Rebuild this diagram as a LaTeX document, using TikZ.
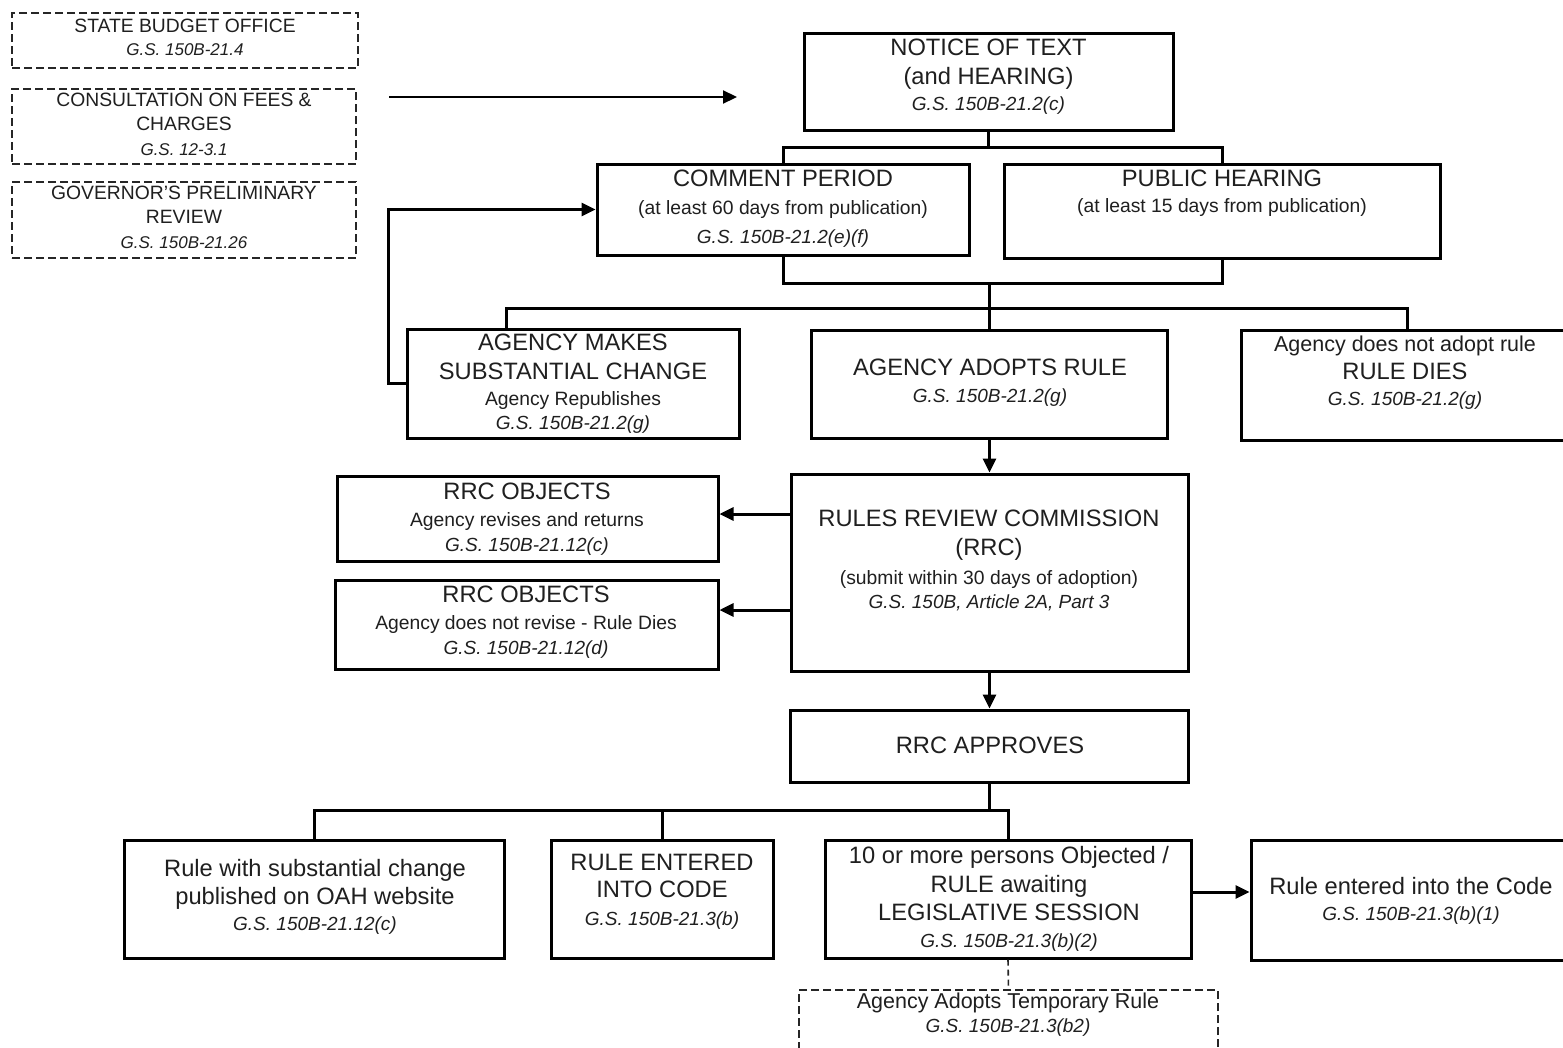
\documentclass[tikz,border=0pt]{standalone}
\usepackage{fontspec}
\setmainfont{Liberation Sans}
\usetikzlibrary{arrows.meta}
\newcommand\fLg{\fontsize{23.7}{28}\selectfont}
\newcommand\fMd{\fontsize{21.5}{26}\selectfont}
\newcommand\fSm{\fontsize{19.3}{25}\selectfont}
\newcommand\fGs{\fontsize{19}{25}\selectfont\itshape}
\newcommand\fGt{\fontsize{17}{23}\selectfont\itshape}
\tikzset{
  box/.style={draw, line width=3pt, inner sep=0pt},
  dbox/.style={draw, line width=1.6pt, dash pattern=on 8pt off 4pt, inner sep=0pt, draw=black!85},
  txt/.style={inner sep=0pt, align=center, text=black!88},
  conn/.style={line width=3pt},
  arr/.style={line width=3pt, -{Triangle[length=14pt,width=13pt]}},
  thinarr/.style={line width=2.2pt, -{Triangle[length=14pt,width=13pt]}},
  dconn/.style={line width=1.6pt, dash pattern=on 6pt off 4pt, draw=black!85},
}
\begin{document}
\begin{tikzpicture}[x=1pt,y=-1pt]
\clip (0,0) rectangle (1563,1047);
\fill[white] (0,0) rectangle (1563,1047);

% dashed boxes top left
\node[dbox, minimum width=346pt, minimum height=55pt] (sbo) at (185,40.5) {};
\node[txt, font={\fontsize{19.3}{23}\selectfont}] (tsbo) at (185,37) {STATE BUDGET OFFICE\\{\fGt G.S. 150B-21.4}};
\node[dbox, minimum width=344pt, minimum height=75pt] (cons) at (184,126.5) {};
\node[txt, font={\fontsize{19.3}{24.5}\selectfont}] (tcons) at (184,124) {CONSULTATION ON FEES \&\\CHARGES\\{\fGt G.S. 12-3.1}};
\node[dbox, minimum width=344pt, minimum height=76pt] (gov) at (184,220) {};
\node[txt, font={\fontsize{19.3}{24.5}\selectfont}] (tgov) at (184,217) {GOVERNOR'S PRELIMINARY\\REVIEW\\{\fGt G.S. 150B-21.26}};

\coordinate (a1) at (389,97);
\coordinate (a2) at (737,97);
\draw[thinarr] (a1) -- (a2);

% notice
\node[box, minimum width=369pt, minimum height=97pt] (notice) at (988.5,81.5) {};
\node[txt, font={\fontsize{23.7}{28.5}\selectfont}] (tnotice) at (988.5,77) {NOTICE OF TEXT\\(and HEARING)\\[-2pt]{\fGs G.S. 150B-21.2(c)}};

\node[box, minimum width=372pt, minimum height=91pt] (comment) at (783,209.5) {};
\node[txt, font={\fontsize{23.7}{28.5}\selectfont}] (tcomment) at (783,208.5) {COMMENT PERIOD\\{\fSm (at least 60 days from publication)}\\{\fGs G.S. 150B-21.2(e)(f)}};
\node[box, minimum width=436pt, minimum height=94pt] (public) at (1222,211) {};
\node[txt, font={\fontsize{23.7}{26}\selectfont}] (tpublic) at (1222,193) {PUBLIC HEARING\\{\fSm (at least 15 days from publication)}};

\node[box, minimum width=332pt, minimum height=109pt] (makes) at (573,383.5) {};
\node[txt, font={\fontsize{23.7}{26}\selectfont}] (tmakes) at (573,383.5) {AGENCY MAKES\\[3pt]SUBSTANTIAL CHANGE\\{\fSm Agency Republishes}\\[-2pt]{\fGs G.S. 150B-21.2(g)}};
\node[box, minimum width=356pt, minimum height=108pt] (adopt) at (989.5,384) {};
\node[txt, font={\fontsize{23.7}{27}\selectfont}] (tadopt) at (990,382.5) {AGENCY ADOPTS RULE\\{\fGs G.S. 150B-21.2(g)}};
\node[box, minimum width=332pt, minimum height=110pt] (dies) at (1407,385) {};
\node[txt, font={\fontsize{23.7}{28}\selectfont}] (tdies) at (1405,372.5) {{\fMd Agency does not adopt rule}\\RULE DIES\\[-2pt]{\fGs G.S. 150B-21.2(g)}};

\node[box, minimum width=397pt, minimum height=197pt] (rrc) at (989.5,572.5) {};
\node[txt, font={\fontsize{23.7}{29}\selectfont}] (trrc) at (989,560) {RULES REVIEW COMMISSION\\(RRC)\\{\fSm (submit within 30 days of adoption)}\\[-5pt]{\fGs G.S. 150B, Article 2A, Part 3}};
\node[box, minimum width=381pt, minimum height=85pt] (obj1) at (527.5,518.5) {};
\node[txt, font={\fontsize{23.7}{27}\selectfont}] (tobj1) at (527,519) {RRC OBJECTS\\{\fSm Agency revises and returns}\\[-2pt]{\fGs G.S. 150B-21.12(c)}};
\node[box, minimum width=383pt, minimum height=89pt] (obj2) at (526.5,624.5) {};
\node[txt, font={\fontsize{23.7}{27}\selectfont}] (tobj2) at (526,622) {RRC OBJECTS\\{\fSm Agency does not revise - Rule Dies}\\[-2pt]{\fGs G.S. 150B-21.12(d)}};

\node[box, minimum width=398pt, minimum height=72pt] (appr) at (989.5,746) {};
\node[txt, font=\fLg] (tappr) at (990,745) {RRC APPROVES};

\node[box, minimum width=380pt, minimum height=118pt] (sub) at (314,899) {};
\node[txt, font={\fontsize{23.7}{28}\selectfont}] (tsub) at (315,897) {Rule with substantial change\\published on OAH website\\[-2pt]{\fGs G.S. 150B-21.12(c)}};
\node[box, minimum width=222pt, minimum height=118pt] (ent) at (662,899) {};
\node[txt, font={\fontsize{23.7}{27.5}\selectfont}] (tent) at (662,891.5) {RULE ENTERED\\INTO CODE\\{\fGs G.S. 150B-21.3(b)}};
\node[box, minimum width=366pt, minimum height=118pt] (ten) at (1008,899) {};
\node[txt, font={\fontsize{23.7}{28.5}\selectfont}] (tten) at (1009,899) {10 or more persons Objected /\\RULE awaiting\\LEGISLATIVE SESSION\\[-1.5pt]{\fGs G.S. 150B-21.3(b)(2)}};
\node[box, minimum width=324pt, minimum height=120pt] (code) at (1413,900) {};
\node[txt, font={\fontsize{23.7}{28}\selectfont}] (tcode) at (1411,901) {Rule entered into the Code\\[-2pt]{\fGs G.S. 150B-21.3(b)(1)}};

\node[dbox, minimum width=419pt, minimum height=70pt] (temp) at (1008.5,1025) {};
\node[txt, font={\fontsize{21.5}{24}\selectfont}] (ttemp) at (1008,1015) {Agency Adopts Temporary Rule\\{\fGs G.S. 150B-21.3(b2)}};

% connectors
\draw[conn] (notice.south) -- (notice.south |- 0,147);
\draw[conn] (comment.north) |- (notice.south |- 0,147) -| (public.north);
\draw[conn] (comment.south) |- (public.south |- 0,283) -- (public.south);
\draw[conn] (adopt.north |- 0,283) -- (adopt.north);
\draw[conn] (506,0 |- makes.north) |- (dies.north |- 0,308) -- (dies.north);
\draw[arr] (makes.west) -- ++(-17,0) |- (comment.west);
\draw[arr] (adopt.south) -- (rrc.north);
\draw[arr] (rrc.west |- 0,514) -- (obj1.east |- 0,514);
\draw[arr] (rrc.west |- 0,610) -- (obj2.east |- 0,610);
\draw[arr] (rrc.south) -- (appr.north);
\draw[conn] (appr.south) -- (appr.south |- 0,810);
\draw[conn] (sub.north) |- (ten.north |- 0,810) -- (ten.north);
\draw[conn] (ent.north) -- (ent.north |- 0,810);
\draw[arr] (ten.east |- 0,892) -- (code.west |- 0,892);
\draw[dconn] (ten.south) -- (temp.north);
\end{tikzpicture}
\end{document}
